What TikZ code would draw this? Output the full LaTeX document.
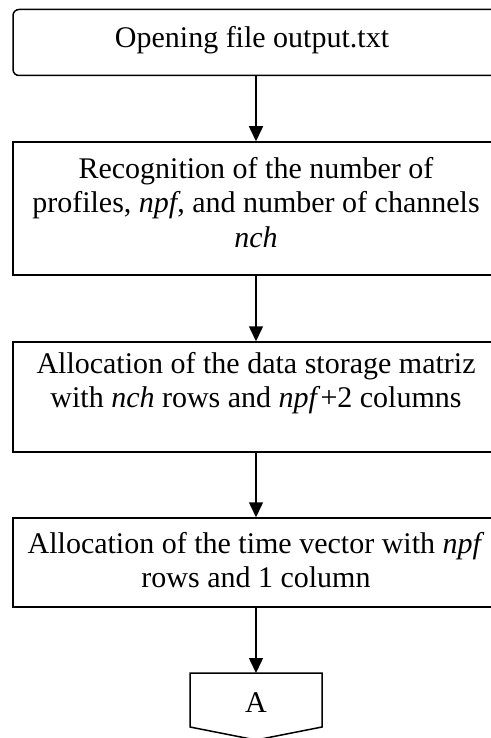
\documentclass[tikz,border=0pt]{standalone}
\usepackage{fontspec}
\setmainfont{Liberation Serif}
\usetikzlibrary{arrows.meta}

\tikzset{
  box/.style={draw, line width=1.5pt, minimum width=486pt, inner sep=0pt},
  roundbox/.style={box, rounded corners=6pt},
  label text/.style={align=center, inner sep=0pt, anchor=base,
    font=\fontsize{30}{34.5}\selectfont},
  flow/.style={line width=1.5pt, -{Triangle[length=15pt, width=14pt]}},
}

\begin{document}
\begin{tikzpicture}[x=1pt, y=-1pt]
  \useasboundingbox (0,0) rectangle (490,738);

  % process boxes
  \node[roundbox, minimum height=66pt]  (b1) at (256,42.5) {};
  \node[box,      minimum height=133pt] (b2) at (256,208.5) {};
  \node[box,      minimum height=110pt] (b3) at (256,397) {};
  \node[box,      minimum height=89pt]  (b4) at (256,562.5) {};

  % box texts (anchored at the baseline of the last line)
  \node[label text] (t1) at (252,48) {Opening file output.txt};
  \node[label text] (t2) at (256,247) {Recognition of the number of\\
    profiles, \textit{npf}, and number of channels\\ \textit{nch}};
  \node[label text] (t3) at (256,407.5) {Allocation of the data storage matriz\\
    with \textit{nch} rows and \textit{npf}+2 columns};
  \node[label text] (t4) at (256,587.5) {Allocation of the time vector with \textit{npf}\\
    rows and 1 column};

  % off-page connector
  \coordinate (atop) at (256,673);
  \draw[line width=1.5pt] (190,673) -- (322,673) -- (322,727) -- (256,740)
    -- (190,727) -- cycle;
  \node[font=\fontsize{30}{34.5}\selectfont, anchor=base] (A) at (256,712) {A};

  % flow arrows
  \draw[flow] (b1.south) -- (b2.north);
  \draw[flow] (b2.south) -- (b3.north);
  \draw[flow] (b3.south) -- (b4.north);
  \draw[flow] (b4.south) -- (atop);
\end{tikzpicture}
\end{document}
